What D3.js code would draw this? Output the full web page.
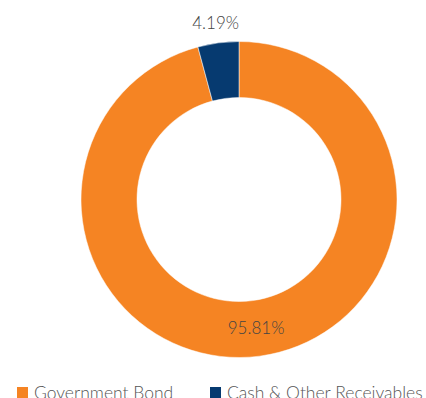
<!DOCTYPE html>
<html>
<head>
<meta charset="utf-8">
<script src="https://cdn.jsdelivr.net/npm/d3@7"></script>
<style>
  body { margin: 0; background: #fff; }
  svg { display: block; }
  text { font-family: Lato, "Open Sans", sans-serif; font-weight: 300; }
</style>
</head>
<body>
<div id="chart"></div>
<script>
// data
const categories = ['Government Bond', 'Cash & Other Receivables'];
const shares = [95.81, 4.19];
const colours = ['#f58423', '#063a70'];

const width = 426, height = 398;
const cx = 239, cy = 199.5;
const outer_r = 158, inner_r = 102;

const svg = d3.select('#chart')
    .append('svg')
    .attr('width', width)
    .attr('height', height);

const rows = categories.map((c, i) => ({ name: c, value: shares[i], colour: colours[i] }));

const pie = d3.pie().sort(null).value(d => d.value);
const arc = d3.arc().innerRadius(inner_r).outerRadius(outer_r);

const g = svg.append('g').attr('transform', 'translate(' + cx + ',' + cy + ')');
const arcs = pie(rows);

g.selectAll('path.slice')
    .data(arcs)
    .enter()
    .append('path')
    .attr('class', 'slice')
    .attr('d', arc)
    .attr('fill', d => d.data.colour)
    .attr('stroke', '#fff')
    .attr('stroke-width', 0.5);

// labels: big slice inside the ring, small slice outside
const label_pos = function (d) {
    let a = (d.startAngle + d.endAngle) / 2;
    let r = d.data.value > 50 ? 130 : 178;
    return [r * Math.sin(a), -r * Math.cos(a)];
};

g.selectAll('text.lab')
    .data(arcs)
    .enter()
    .append('text')
    .attr('class', 'lab')
    .attr('x', d => label_pos(d)[0])
    .attr('y', d => label_pos(d)[1] + 6)
    .attr('text-anchor', 'middle')
    .attr('font-size', 17)
    .attr('fill', '#444')
    .text(d => d.data.value.toFixed(2) + '%');

// legend
const legend_x = [17, 210];
const leg = svg.selectAll('g.leg')
    .data(rows)
    .enter()
    .append('g')
    .attr('class', 'leg')
    .attr('transform', (d, i) => 'translate(' + legend_x[i] + ',387)');

leg.append('rect')
    .attr('width', 11)
    .attr('height', 11)
    .attr('fill', d => d.colour);

leg.append('text')
    .attr('x', 17)
    .attr('y', 12)
    .attr('font-size', 17.5)
    .attr('fill', '#555')
    .text(d => d.name);
</script>
</body>
</html>
